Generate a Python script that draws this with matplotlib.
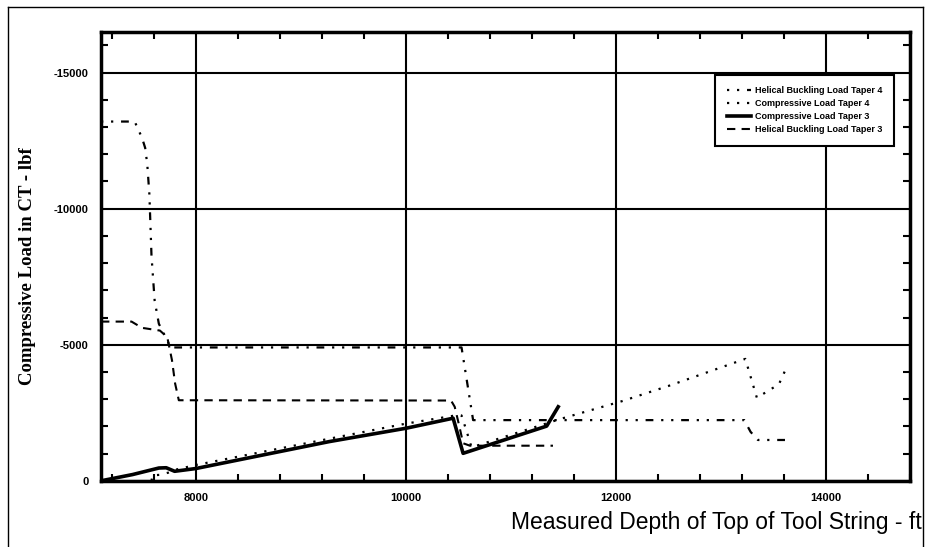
import matplotlib
matplotlib.use("Agg")
import matplotlib.pyplot as plt
from matplotlib.ticker import MultipleLocator
from matplotlib.lines import Line2D

# values: depth in ft, load in lbf (negative = compressive)
hb4_depth = [7100, 7420, 7490, 7520, 7540, 7560, 7580, 7610, 7650, 7730, 7760,
             10530, 10560, 10595, 10625, 10640, 13220, 13280, 13350, 13620]
hb4_load = [-13200, -13200, -12600, -12230, -11620, -10520, -8270, -6620, -5770, -5160, -4900,
            -4900, -4180, -3330, -2600, -2230, -2230, -1800, -1500, -1500]

ct4_depth = [7580, 7590, 7660, 7740, 7800, 8000, 9000, 10000, 10500, 10530, 10580, 10625,
             11340, 11450, 12060, 12510, 13230, 13340, 13550, 13630]
ct4_load = [0, -200, -220, -300, -400, -580, -1340, -2100, -2420, -2400, -1800, -1230,
            -2110, -2250, -2930, -3500, -4480, -3050, -3550, -4230]

ct3_depth = [7100, 7400, 7650, 7720, 7800, 8000, 9270, 10000, 10450, 10545, 11340, 11450]
ct3_load = [0, -230, -470, -480, -350, -450, -1440, -1930, -2300, -1010, -2010, -2720]

hb3_depth = [7100, 7390, 7490, 7660, 7730, 7775, 7805, 7840, 10430, 10465, 10510, 10545, 10610, 11400]
hb3_load = [-5850, -5850, -5620, -5520, -5280, -4430, -3570, -2960, -2950, -2720, -1990, -1380, -1290, -1290]

labels = ["Helical Buckling Load Taper 4", "Compressive Load Taper 4",
          "Compressive Load Taper 3", "Helical Buckling Load Taper 3"]

x_major = [8000, 10000, 12000, 14000]
y_major = [0, -5000, -10000, -15000]

plt.rcParams['axes.unicode_minus'] = False

fig = plt.figure(figsize=(9.27, 5.47), dpi=100)
ax = fig.add_axes([0.109, 0.121, 0.873, 0.821])

ax.plot(hb4_depth, hb4_load, color='black', lw=1.6, ls=(0, (1, 3.5, 1, 3.5, 3.5, 3.5)), label=labels[0])
ax.plot(ct4_depth, ct4_load, color='black', lw=1.6, ls=(0, (1, 3.5)), label=labels[1])
ax.plot(ct3_depth, ct3_load, color='black', lw=2.6, ls='-', label=labels[2])
ax.plot(hb3_depth, hb3_load, color='black', lw=1.5, ls=(0, (4, 3)), label=labels[3])

ax.set_xlim(7100, 14800)
ax.set_ylim(0, -16500)
ax.set_xticks(x_major)
ax.set_yticks(y_major)
ax.xaxis.set_minor_locator(MultipleLocator(400))
ax.yaxis.set_minor_locator(MultipleLocator(1000))
ax.grid(True, which='major', color='black', lw=1.5)
ax.tick_params(which='major', length=0)
ax.tick_params(axis='x', which='major', pad=9)
ax.tick_params(axis='y', which='major', pad=9)
ax.tick_params(which='minor', direction='in', length=5, width=1.5, top=True, right=True)
for lab in ax.get_xticklabels() + ax.get_yticklabels():
    lab.set_fontfamily('Liberation Sans')
    lab.set_fontweight('bold')
    lab.set_fontsize(8)
for sp in ax.spines.values():
    sp.set_linewidth(2.5)

leg = ax.legend(loc='upper left', bbox_to_anchor=(0.759, 0.904), fancybox=False,
                edgecolor='black', framealpha=1, handlelength=2.7, labelspacing=0.45,
                borderpad=1.25, handletextpad=0.45, borderaxespad=0,
                prop={'family': 'Liberation Sans', 'weight': 'bold', 'size': 6.5})
leg.get_frame().set_linewidth(1.5)

fig.text(0.030, 1 - 266 / 547, "Compressive Load in CT - lbf", rotation=90,
         ha='center', va='center', family='Liberation Serif', fontweight='bold', fontsize=13.5)
fig.text(922 / 927, 1 - 522 / 547, "Measured Depth of Top of Tool String - ft",
         ha='right', va='center', family='Liberation Sans', fontsize=16.5)

# scan frame around the page
for xs, ys in [([8 / 927, 8 / 927], [0, 1 - 7 / 547]),
               ([8 / 927, 923 / 927], [1 - 7 / 547, 1 - 7 / 547]),
               ([923 / 927, 923 / 927], [0, 1 - 7 / 547])]:
    fig.add_artist(Line2D(xs, ys, transform=fig.transFigure, color='black', lw=1))

fig.savefig("out.png", dpi=100)
